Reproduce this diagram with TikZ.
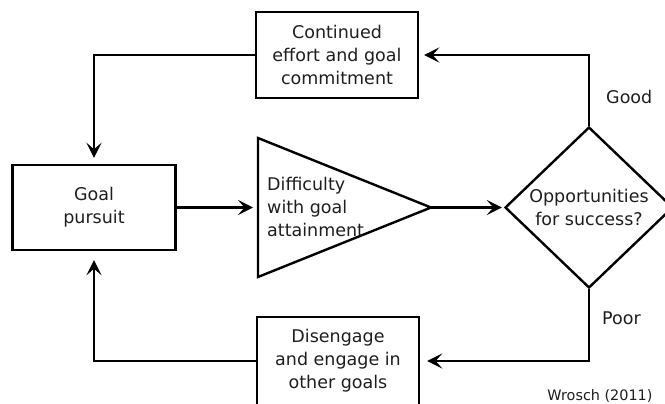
\documentclass[tikz,border=0pt]{standalone}
\usepackage{fontspec}
\setmainfont{DejaVu Sans}
\usetikzlibrary{shapes.geometric,arrows.meta}
\newcommand\dfont{\fontsize{17.5}{23}\selectfont}
\newcommand\sfont{\fontsize{14.4}{17}\selectfont}
\definecolor{txt}{HTML}{1E1E1E}
\begin{document}
\begin{tikzpicture}[x=1pt,y=-1pt,
  line/.style={line width=2.4pt},
  box/.style={draw, line width=2.4pt, minimum width=162pt, minimum height=86pt,
    align=center, inner sep=0pt, font=\dfont, text=txt},
  arr/.style={line width=2.4pt, -{Stealth[length=15pt,width=15pt,inset=6.5pt]}},
  lbl/.style={font=\dfont, text=txt, inner sep=0pt}
]
\useasboundingbox (0,0) rectangle (665,404);
% boxes
\node[box] (top) at (337,55) {Continued\\effort and goal\\commitment};
\node[box, minimum width=163pt, minimum height=85pt] (goal) at (94,207.5) {Goal\\pursuit};
\node[box, minimum height=88pt] (bot) at (338,361) {Disengage\\and engage in\\other goals};
% triangle
\coordinate (triA) at (258,138);
\coordinate (triB) at (258,277);
\coordinate (triT) at (431,207.5);
\coordinate (triL) at (258,207.5);
\draw[line] (triA) -- (triT) -- (triB) -- cycle;
\node[lbl, anchor=west, align=left] (diff) at (267,207) {Difficulty\\with goal\\attainment};
% diamond
\node[diamond, draw, line width=2.4pt, minimum width=168pt, minimum height=161pt,
  inner sep=0pt, align=center, font=\dfont, text=txt] (dia) at (589,207.5)
  {Opportunities\\for success?};
% connectors
\draw[arr, shorten >=5pt] (dia.north) |- (top.east);
\draw[arr, shorten >=6pt] (top.west) -| (goal.north);
\draw[arr, shorten >=5pt] (goal.east) -- (triL);
\draw[arr, shorten >=2pt] (triT) -- (dia.west);
\draw[arr, shorten >=7pt] (dia.south) |- (bot.east);
\draw[arr, shorten >=9pt] (bot.west) -| (goal.south);
% labels
\node[lbl, anchor=west] (good) at (606,97) {Good};
\node[lbl, anchor=west] (poor) at (602,318) {Poor};
\node[font=\sfont, text=txt, inner sep=0pt] (src) at (600,396) {Wrosch (2011)};
\end{tikzpicture}
\end{document}
